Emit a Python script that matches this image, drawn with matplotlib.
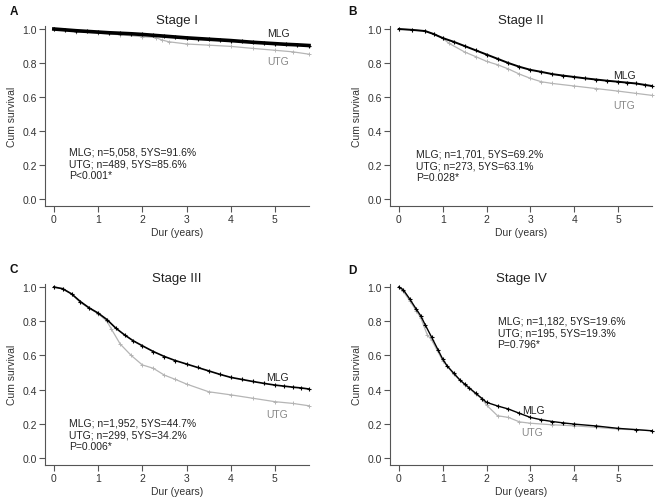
import matplotlib
matplotlib.use("Agg")
import matplotlib.pyplot as plt

plt.rcParams['font.family'] = ['Liberation Sans', 'DejaVu Sans']

# ---- data ----
stages = ["Stage I", "Stage II", "Stage III", "Stage IV"]
letters = ["A", "B", "C", "D"]

A_mlg_t = [0, 0.25, 0.5, 0.75, 1, 1.25, 1.5, 1.75, 2, 2.25, 2.5, 2.75, 3, 3.25, 3.5, 3.75, 4, 4.25, 4.5, 4.75, 5, 5.25, 5.5, 5.77]
A_mlg_s = [1.0, 0.995, 0.99, 0.986, 0.982, 0.978, 0.975, 0.972, 0.968, 0.963, 0.958, 0.953, 0.948, 0.944, 0.94, 0.936, 0.932, 0.927, 0.922, 0.918, 0.914, 0.91, 0.907, 0.903]
A_utg_t = [0, 0.5, 1, 1.5, 2, 2.3, 2.45, 2.6, 3, 3.5, 4, 4.5, 5, 5.4, 5.77]
A_utg_s = [1.0, 0.985, 0.976, 0.966, 0.955, 0.95, 0.935, 0.925, 0.912, 0.905, 0.898, 0.886, 0.875, 0.866, 0.852]

B_mlg_t = [0, 0.3, 0.6, 0.8, 1.0, 1.25, 1.5, 1.75, 2.0, 2.25, 2.5, 2.75, 3.0, 3.25, 3.5, 3.75, 4.0, 4.25, 4.5, 4.75, 5.0, 5.2, 5.4, 5.6, 5.77]
B_mlg_s = [1.0, 0.995, 0.988, 0.97, 0.947, 0.925, 0.90, 0.875, 0.85, 0.825, 0.80, 0.778, 0.76, 0.748, 0.735, 0.726, 0.718, 0.71, 0.703, 0.696, 0.69, 0.685, 0.68, 0.672, 0.665]
B_utg_t = [0, 0.3, 0.6, 0.8, 1.0, 1.15, 1.5, 1.75, 2.0, 2.25, 2.5, 2.75, 3.0, 3.25, 3.5, 4.0, 4.5, 5.0, 5.4, 5.77]
B_utg_s = [1.0, 0.995, 0.988, 0.97, 0.945, 0.915, 0.865, 0.838, 0.81, 0.79, 0.765, 0.735, 0.71, 0.69, 0.68, 0.665, 0.65, 0.635, 0.622, 0.61]

C_mlg_t = [0, 0.2, 0.4, 0.6, 0.8, 1.0, 1.2, 1.4, 1.6, 1.8, 2.0, 2.25, 2.5, 2.75, 3.0, 3.25, 3.5, 3.75, 4.0, 4.25, 4.5, 4.75, 5.0, 5.2, 5.4, 5.6, 5.77]
C_mlg_s = [1.0, 0.99, 0.96, 0.915, 0.878, 0.848, 0.81, 0.76, 0.72, 0.685, 0.657, 0.623, 0.594, 0.57, 0.55, 0.53, 0.51, 0.49, 0.472, 0.46, 0.448, 0.437, 0.427, 0.421, 0.415, 0.41, 0.404]
C_utg_t = [0, 0.2, 0.4, 0.6, 0.8, 1.0, 1.2, 1.3, 1.5, 1.75, 2.0, 2.25, 2.5, 2.75, 3.0, 3.5, 4.0, 4.5, 5.0, 5.4, 5.77]
C_utg_s = [1.0, 0.99, 0.96, 0.91, 0.875, 0.845, 0.80, 0.755, 0.667, 0.60, 0.545, 0.525, 0.485, 0.46, 0.433, 0.388, 0.37, 0.35, 0.33, 0.32, 0.306]

D_mlg_t = [0, 0.1, 0.25, 0.4, 0.5, 0.6, 0.75, 0.9, 1.0, 1.1, 1.25, 1.4, 1.5, 1.6, 1.75, 1.9, 2.0, 2.25, 2.5, 2.75, 3.0, 3.25, 3.5, 3.75, 4.0, 4.5, 5.0, 5.4, 5.77]
D_mlg_s = [1.0, 0.985, 0.93, 0.87, 0.832, 0.78, 0.706, 0.63, 0.579, 0.54, 0.497, 0.455, 0.433, 0.412, 0.38, 0.348, 0.326, 0.305, 0.287, 0.262, 0.238, 0.224, 0.214, 0.206, 0.199, 0.188, 0.174, 0.167, 0.16]
D_utg_t = [0, 0.1, 0.25, 0.4, 0.5, 0.65, 0.75, 1.0, 1.25, 1.5, 1.75, 1.9, 2.0, 2.25, 2.5, 2.75, 3.0, 3.5, 4.0, 4.5, 5.0, 5.4, 5.77]
D_utg_s = [1.0, 0.975, 0.92, 0.86, 0.82, 0.72, 0.69, 0.57, 0.49, 0.43, 0.375, 0.345, 0.31, 0.248, 0.238, 0.212, 0.204, 0.195, 0.189, 0.18, 0.17, 0.165, 0.16]

stats = [
    ["MLG; n=5,058, 5YS=91.6%", "UTG; n=489, 5YS=85.6%", "P<0.001*"],
    ["MLG; n=1,701, 5YS=69.2%", "UTG; n=273, 5YS=63.1%", "P=0.028*"],
    ["MLG; n=1,952, 5YS=44.7%", "UTG; n=299, 5YS=34.2%", "P=0.006*"],
    ["MLG; n=1,182, 5YS=19.6%", "UTG; n=195, 5YS=19.3%", "P=0.796*"],
]
xticks = [0, 1, 2, 3, 4, 5]
yticks = [0.0, 0.2, 0.4, 0.6, 0.8, 1.0]

curves = [
    (A_mlg_t, A_mlg_s, A_utg_t, A_utg_s),
    (B_mlg_t, B_mlg_s, B_utg_t, B_utg_s),
    (C_mlg_t, C_mlg_s, C_utg_t, C_utg_s),
    (D_mlg_t, D_mlg_s, D_utg_t, D_utg_s),
]

# ---- layout ----
W, H = 669, 502
fig = plt.figure(figsize=(W / 100, H / 100), dpi=100)
boxes = [(45, 26.6, 309, 207), (390, 26.6, 652, 207),
         (45, 284.6, 309, 466), (390, 284.6, 652, 466)]
letter_pos = [(10, 12), (348, 12), (10, 270), (348, 271)]
text_pos = [(0.34, 0.31), (0.39, 0.30), (0.34, 0.24), (2.25, 0.835)]
mlg_lab = [(4.82, 0.976), (4.88, 0.73), (4.81, 0.475), (2.8, 0.28)]
utg_lab = [(4.82, 0.81), (4.88, 0.555), (4.81, 0.257), (2.8, 0.15)]
mlg_lw = [2.6, 1.4, 1.2, 1.0]

utg_col = "#b5b5b5"
for i in range(4):
    l, t, r, b = boxes[i]
    ax = fig.add_axes([l / W, 1 - b / H, (r - l) / W, (b - t) / H])
    mt, ms, ut, us = curves[i]
    ax.plot(ut, us, color=utg_col, lw=0.9, marker='+', ms=3.5, mew=0.7, clip_on=False, zorder=2)
    ax.plot(mt, ms, color="black", lw=mlg_lw[i], marker='+', ms=3.5, mew=0.8, clip_on=False, zorder=3)
    ax.set_xlim(-0.2, 5.77)
    ax.set_ylim(-0.04, 1.02)
    ax.set_xticks(xticks)
    ax.set_xticklabels([str(v) for v in xticks])
    ax.set_yticks(yticks)
    ax.set_yticklabels([f"{v:.1f}" for v in yticks])
    for s in ["top", "right"]:
        ax.spines[s].set_visible(False)
    for s in ["left", "bottom"]:
        ax.spines[s].set_color("#555555")
        ax.spines[s].set_linewidth(0.8)
    ax.tick_params(length=4, width=0.8, color="#555555", labelsize=7.5, labelcolor="#333333", pad=2)
    ax.set_ylabel("Cum survival", fontsize=7.5, color="#333333", labelpad=4)
    ax.set_xlabel("Dur (years)", fontsize=7.5, color="#333333", labelpad=2)
    ax.set_title(stages[i], fontsize=9.5, color="#222222", pad=2)
    tx, ty = text_pos[i]
    ax.text(tx, ty, "\n".join(stats[i]), fontsize=7.5, color="#222222",
            va="top", ha="left", linespacing=1.25)
    ax.text(mlg_lab[i][0], mlg_lab[i][1], "MLG", fontsize=7.5, color="#222222", va="center", ha="left")
    ax.text(utg_lab[i][0], utg_lab[i][1], "UTG", fontsize=7.5, color="#888888", va="center", ha="left")
    fig.text(letter_pos[i][0] / W, 1 - letter_pos[i][1] / H, letters[i], fontsize=8.5,
             fontweight="bold", va="center", ha="left", color="#111111")

fig.savefig("out.png", dpi=100)
